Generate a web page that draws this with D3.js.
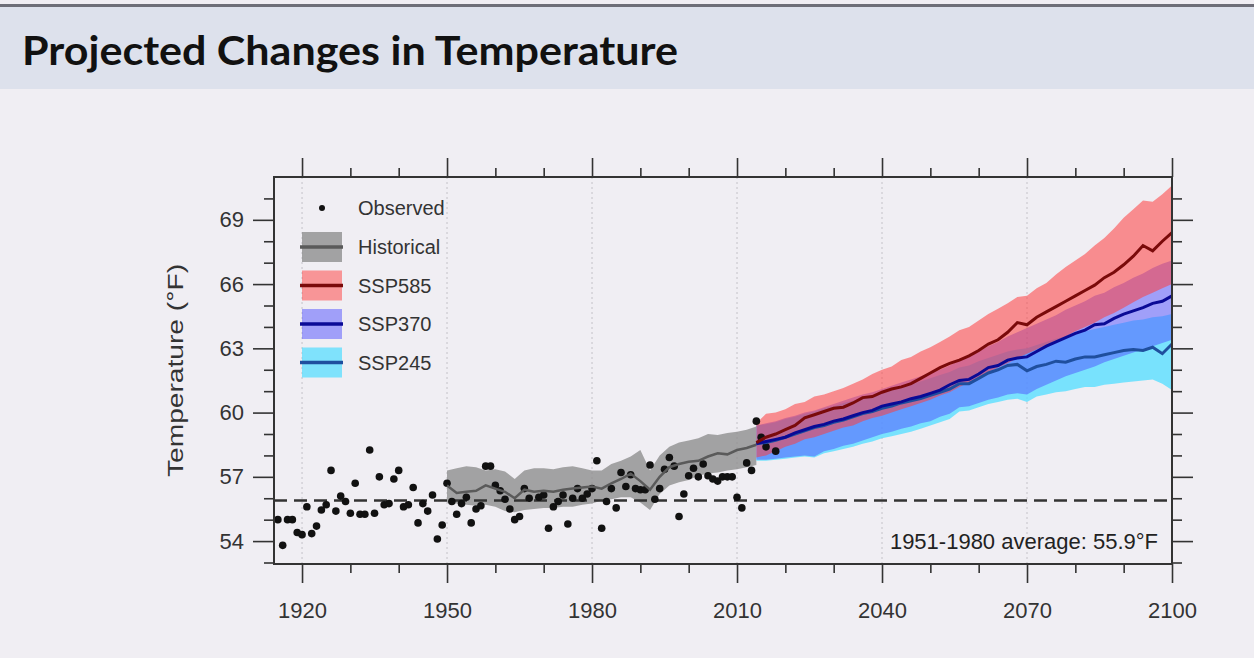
<!DOCTYPE html>
<html>
<head>
<meta charset="utf-8">
<script src="https://cdn.jsdelivr.net/npm/d3@7"></script>
<style>
  html, body { margin: 0; padding: 0; background: #f0eef3; }
  svg { display: block; }
</style>
</head>
<body>
<div id="chart"></div>
<script>
const titleText = 'Projected Changes in Temperature';
const yLabelText = 'Temperature (°F)';
const baselineLabel = '1951-1980 average: 55.9°F';
const baselineValue = 55.9;

const xMajorTicks = [1920, 1950, 1980, 2010, 2040, 2070, 2100];
const xMinorTicks = [1930, 1940, 1960, 1970, 1990, 2000, 2020, 2030, 2050, 2060, 2080, 2090];
const yMajorTicks = [54, 57, 60, 63, 66, 69];
const yMinorTicks = [53, 55, 56, 58, 59, 61, 62, 64, 65, 67, 68, 70];

// observed annual means
const obsYears = [1915, 1916, 1917, 1918, 1919, 1920, 1921, 1922, 1923, 1924, 1925, 1926, 1927, 1928, 1929,
  1930, 1931, 1932, 1933, 1934, 1935, 1936, 1937, 1938, 1939, 1940, 1941, 1942, 1943, 1944, 1945, 1946,
  1947, 1948, 1949, 1950, 1951, 1952, 1953, 1954, 1955, 1956, 1957, 1958, 1959, 1960, 1961, 1962, 1963,
  1964, 1965, 1966, 1967, 1969, 1970, 1971, 1972, 1973, 1974, 1975, 1976, 1977, 1978, 1979, 1980, 1981,
  1982, 1983, 1984, 1985, 1986, 1987, 1988, 1989, 1990, 1991, 1992, 1993, 1994, 1995, 1996, 1997, 1998,
  1999, 2000, 2001, 2002, 2003, 2004, 2005, 2006, 2007, 2008, 2009, 2010, 2011, 2012, 2013, 2014, 2015,
  2016, 2018];
const obsValues = [55.0, 53.8, 55.0, 55.0, 54.4, 54.3, 55.6, 54.35, 54.7, 55.45, 55.7, 57.3, 55.4, 56.1, 55.85,
  55.3, 56.7, 55.25, 55.25, 58.25, 55.3, 57.0, 55.7, 55.75, 56.9, 57.3, 55.6, 55.7, 56.5, 54.85, 55.75, 55.4,
  56.15, 54.1, 54.75, 56.7, 55.85, 55.25, 55.75, 56.05, 54.85, 55.5, 55.65, 57.5, 57.5, 56.6, 56.35, 55.95, 55.5,
  55.0, 55.15, 56.45, 56.0, 56.05, 56.15, 54.6, 55.6, 55.85, 56.15, 54.8, 56.0, 56.45, 56.0, 56.2, 56.45, 57.75,
  54.6, 55.85, 56.45, 55.55, 57.2, 56.55, 57.1, 56.45, 56.4, 56.4, 57.55, 55.95, 56.45, 57.35, 57.9, 57.5, 55.15,
  56.2, 57.05, 57.4, 57.0, 57.6, 57.05, 56.9, 56.8, 57.0, 57.0, 57.0, 56.05, 55.55, 57.65, 57.3, 59.6, 58.85,
  58.4, 58.2];

// historical model ensemble (every 2 years)
const histYears = [1950, 1952, 1954, 1956, 1958, 1960, 1962, 1964, 1966, 1968, 1970, 1972, 1974, 1976, 1978,
  1980, 1982, 1984, 1986, 1988, 1990, 1992, 1994, 1996, 1998, 2000, 2002, 2004, 2006, 2008, 2010, 2012, 2014];
const histMean = [56.6, 56.25, 56.3, 56.35, 56.6, 56.45, 56.3, 56.0, 56.4, 56.3, 56.35, 56.3, 56.4, 56.45, 56.5,
  56.55, 56.45, 56.7, 56.9, 57.15, 56.8, 56.4, 57.0, 57.45, 57.6, 57.7, 57.75, 57.95, 58.1, 58.05, 58.25, 58.35, 58.5];
const histHigh = [57.3, 57.4, 57.5, 57.45, 57.3, 57.35, 57.25, 56.9, 57.3, 57.4, 57.4, 57.35, 57.45, 57.5, 57.4,
  57.3, 57.3, 57.6, 57.75, 57.95, 58.25, 57.3, 58.0, 58.4, 58.6, 58.7, 58.8, 59.0, 58.95, 59.05, 59.1, 59.2, 59.35];
const histLow = [55.8, 55.75, 55.7, 55.65, 55.7, 55.6, 55.4, 55.35, 55.45, 55.5, 55.55, 55.55, 55.6, 55.6, 55.7,
  55.75, 55.9, 55.95, 56.05, 56.05, 55.8, 55.45, 56.2, 56.6, 56.75, 56.85, 57.05, 57.15, 57.2, 57.3, 57.35, 57.45, 57.55];

// scenario projections (every 2 years)
const projYears = [2014, 2016, 2018, 2020, 2022, 2024, 2026, 2028, 2030, 2032, 2034, 2036, 2038, 2040, 2042,
  2044, 2046, 2048, 2050, 2052, 2054, 2056, 2058, 2060, 2062, 2064, 2066, 2068, 2070, 2072, 2074, 2076, 2078,
  2080, 2082, 2084, 2086, 2088, 2090, 2092, 2094, 2096, 2098, 2100];

const ssp585Mean = [58.6, 58.85, 59.0, 59.2, 59.4, 59.75, 59.9, 60.05, 60.2, 60.25, 60.45, 60.7, 60.75, 60.95, 61.1,
  61.2, 61.35, 61.6, 61.85, 62.1, 62.3, 62.45, 62.65, 62.9, 63.2, 63.4, 63.75, 64.2, 64.1, 64.45, 64.7, 64.95, 65.2,
  65.45, 65.7, 65.95, 66.3, 66.55, 66.9, 67.3, 67.8, 67.55, 68.0, 68.4];
const ssp585High = [59.5, 59.95, 60.0, 60.15, 60.4, 60.5, 60.75, 60.85, 61.0, 61.15, 61.35, 61.55, 61.8, 62.0, 62.15,
  62.45, 62.6, 62.85, 63.05, 63.3, 63.55, 63.85, 64.0, 64.3, 64.6, 64.85, 65.1, 65.4, 65.45, 65.8, 66.05, 66.45, 66.8,
  67.1, 67.4, 67.8, 68.15, 68.6, 69.1, 69.5, 69.9, 69.85, 70.2, 70.6];
const ssp585Low = [57.9, 58.0, 58.2, 58.4, 58.55, 58.75, 58.85, 59.0, 59.15, 59.3, 59.4, 59.6, 59.75, 59.85, 60.0,
  60.15, 60.3, 60.45, 60.6, 60.8, 60.95, 61.2, 61.4, 61.65, 61.9, 62.1, 62.3, 62.55, 62.75, 62.95, 63.15, 63.35, 63.55,
  63.8, 64.0, 64.2, 64.45, 64.65, 64.9, 65.15, 65.4, 65.6, 65.8, 66.0];

const ssp370Mean = [58.55, 58.65, 58.75, 58.85, 59.05, 59.2, 59.35, 59.45, 59.6, 59.7, 59.85, 60.0, 60.1, 60.3, 60.4,
  60.5, 60.65, 60.75, 60.9, 61.05, 61.3, 61.5, 61.55, 61.8, 62.1, 62.2, 62.45, 62.55, 62.6, 62.85, 63.1, 63.3, 63.5,
  63.7, 63.85, 64.1, 64.15, 64.4, 64.6, 64.75, 64.9, 65.1, 65.2, 65.45];
const ssp370High = [59.4, 59.5, 59.6, 59.75, 59.85, 60.0, 60.1, 60.25, 60.4, 60.55, 60.7, 60.85, 60.95, 61.1, 61.25,
  61.4, 61.55, 61.7, 61.85, 62.0, 62.2, 62.45, 62.6, 62.85, 63.1, 63.3, 63.55, 63.75, 63.95, 64.15, 64.35, 64.55, 64.8,
  65.0, 65.2, 65.45, 65.6, 65.85, 66.05, 66.3, 66.5, 66.75, 66.95, 67.1];
const ssp370Low = [57.8, 57.8, 57.85, 57.9, 57.95, 58.0, 57.95, 58.2, 58.3, 58.45, 58.55, 58.7, 58.85, 59.0, 59.1,
  59.25, 59.35, 59.5, 59.6, 59.8, 59.95, 60.25, 60.3, 60.45, 60.6, 60.7, 60.85, 60.9, 60.85, 61.1, 61.3, 61.5, 61.7,
  61.85, 62.0, 62.15, 62.35, 62.5, 62.65, 62.8, 62.95, 63.1, 63.25, 63.4];

const ssp245Mean = [58.55, 58.6, 58.7, 58.85, 59.0, 59.15, 59.3, 59.4, 59.55, 59.65, 59.8, 59.95, 60.05, 60.2, 60.3,
  60.45, 60.55, 60.65, 60.8, 60.95, 61.1, 61.35, 61.35, 61.6, 61.85, 62.0, 62.2, 62.25, 61.95, 62.15, 62.25, 62.4, 62.35,
  62.5, 62.6, 62.6, 62.7, 62.8, 62.9, 62.95, 62.9, 63.05, 62.75, 63.2];
const ssp245High = [59.4, 59.45, 59.55, 59.7, 59.8, 59.95, 60.05, 60.2, 60.3, 60.45, 60.55, 60.7, 60.8, 60.95, 61.05,
  61.2, 61.35, 61.45, 61.6, 61.75, 61.9, 62.1, 62.2, 62.4, 62.55, 62.7, 62.85, 62.95, 63.0, 63.15, 63.3, 63.45, 63.55,
  63.7, 63.8, 63.9, 64.0, 64.1, 64.2, 64.3, 64.35, 64.45, 64.5, 64.6];
const ssp245Low = [57.75, 57.75, 57.8, 57.85, 57.9, 57.95, 57.9, 58.1, 58.2, 58.3, 58.4, 58.55, 58.65, 58.8, 58.9,
  59.0, 59.1, 59.25, 59.4, 59.55, 59.7, 60.05, 60.1, 60.25, 60.4, 60.5, 60.6, 60.65, 60.5, 60.75, 60.85, 60.95, 61.0,
  61.1, 61.2, 61.2, 61.3, 61.35, 61.4, 61.45, 61.5, 61.55, 61.35, 61.05];

document.addEventListener('DOMContentLoaded', () => {
  const W = 1254, H = 658;
  const plot = { left: 274, right: 1172, top: 177, bottom: 564 };

  const svg = d3.select('#chart').append('svg')
    .attr('width', W)
    .attr('height', H);

  svg.append('rect').attr('width', W).attr('height', H).attr('fill', '#f0eef3');

  // title bar
  svg.append('rect').attr('x', 0).attr('y', 4).attr('width', W).attr('height', 3).attr('fill', '#6e6e78');
  svg.append('rect').attr('x', 0).attr('y', 7).attr('width', W).attr('height', 82).attr('fill', '#dde1ec');
  svg.append('text')
    .attr('x', 22).attr('y', 65)
    .attr('font-family', 'Lato, "Open Sans", sans-serif')
    .attr('font-weight', 700)
    .attr('font-size', 41)
    .attr('fill', '#111')
    .attr('textLength', 656)
    .attr('lengthAdjust', 'spacingAndGlyphs')
    .text(titleText);

  const x = d3.scaleLinear().domain([1914.2, 2100]).range([plot.left, plot.right]);
  const y = d3.scaleLinear().domain([52.93, 71]).range([plot.bottom, plot.top]);

  const font = '"Liberation Sans", Arial, sans-serif';

  // vertical dotted grid
  svg.append('g').selectAll('line')
    .data(xMajorTicks.filter(d => d < 2100))
    .enter().append('line')
    .attr('x1', d => x(d)).attr('x2', d => x(d))
    .attr('y1', plot.top).attr('y2', plot.bottom)
    .attr('stroke', '#c4c2c8')
    .attr('stroke-width', 1)
    .attr('stroke-dasharray', '2,3');

  // bands
  const band = (xs, lo, hi) => d3.area()
    .x((d, i) => x(xs[i]))
    .y0((d, i) => y(lo[i]))
    .y1((d, i) => y(hi[i]))(xs);
  const line = (xs, vs) => d3.line()
    .x((d, i) => x(xs[i]))
    .y((d, i) => y(vs[i]))(xs);

  const g = svg.append('g');

  g.append('path').attr('d', band(histYears, histLow, histHigh))
    .attr('fill', '#8e8e8e').attr('fill-opacity', 0.8);

  g.append('path').attr('d', band(projYears, ssp245Low, ssp245High))
    .attr('fill', 'rgb(90,222,255)').attr('fill-opacity', 0.8);
  g.append('path').attr('d', band(projYears, ssp370Low, ssp370High))
    .attr('fill', 'rgb(80,80,255)').attr('fill-opacity', 0.5);
  g.append('path').attr('d', band(projYears, ssp585Low, ssp585High))
    .attr('fill', 'rgb(255,60,60)').attr('fill-opacity', 0.55);

  // baseline
  g.append('line')
    .attr('x1', plot.left).attr('x2', plot.right)
    .attr('y1', y(baselineValue)).attr('y2', y(baselineValue))
    .attr('stroke', '#333').attr('stroke-width', 2.5)
    .attr('stroke-dasharray', '13,7');

  // observed
  g.selectAll('.obs')
    .data(obsValues)
    .enter().append('circle')
    .attr('class', 'obs')
    .attr('cx', (d, i) => x(obsYears[i]))
    .attr('cy', d => y(d))
    .attr('r', 3.8)
    .attr('fill', '#111');

  // mean lines
  g.append('path').attr('d', line(histYears, histMean))
    .attr('fill', 'none').attr('stroke', '#5a5a5a').attr('stroke-width', 2.5);
  g.append('path').attr('d', line(projYears, ssp245Mean))
    .attr('fill', 'none').attr('stroke', '#1f4f9e').attr('stroke-width', 3);
  g.append('path').attr('d', line(projYears, ssp370Mean))
    .attr('fill', 'none').attr('stroke', '#0a0a96').attr('stroke-width', 3);
  g.append('path').attr('d', line(projYears, ssp585Mean))
    .attr('fill', 'none').attr('stroke', '#7a0a0a').attr('stroke-width', 3);

  // axes: majors + minors on all four sides
  const axisColor = '#333';
  const styleAxis = sel => {
    sel.select('.domain').remove();
    sel.selectAll('line').attr('stroke', axisColor).attr('stroke-width', 1.6);
    sel.selectAll('text').attr('font-family', font).attr('font-size', 22).attr('fill', '#333');
  };

  svg.append('g').attr('transform', `translate(0,${plot.bottom})`)
    .call(d3.axisBottom(x).tickValues(xMajorTicks).tickSize(19).tickPadding(19).tickFormat(d3.format('d')))
    .call(styleAxis);
  svg.append('g').attr('transform', `translate(0,${plot.bottom})`)
    .call(d3.axisBottom(x).tickValues(xMinorTicks).tickSize(9).tickFormat(''))
    .call(styleAxis);
  svg.append('g').attr('transform', `translate(0,${plot.top})`)
    .call(d3.axisTop(x).tickValues(xMajorTicks).tickSize(19).tickFormat(''))
    .call(styleAxis);
  svg.append('g').attr('transform', `translate(0,${plot.top})`)
    .call(d3.axisTop(x).tickValues(xMinorTicks).tickSize(9).tickFormat(''))
    .call(styleAxis);

  svg.append('g').attr('transform', `translate(${plot.left},0)`)
    .call(d3.axisLeft(y).tickValues(yMajorTicks).tickSize(21).tickPadding(9).tickFormat(d3.format('d')))
    .call(styleAxis);
  svg.append('g').attr('transform', `translate(${plot.left},0)`)
    .call(d3.axisLeft(y).tickValues(yMinorTicks).tickSize(10).tickFormat(''))
    .call(styleAxis);
  svg.append('g').attr('transform', `translate(${plot.right},0)`)
    .call(d3.axisRight(y).tickValues(yMajorTicks).tickSize(21).tickFormat(''))
    .call(styleAxis);
  svg.append('g').attr('transform', `translate(${plot.right},0)`)
    .call(d3.axisRight(y).tickValues(yMinorTicks).tickSize(10).tickFormat(''))
    .call(styleAxis);

  // frame
  svg.append('rect')
    .attr('x', plot.left).attr('y', plot.top)
    .attr('width', plot.right - plot.left).attr('height', plot.bottom - plot.top)
    .attr('fill', 'none').attr('stroke', axisColor).attr('stroke-width', 2);

  // y label
  svg.append('text')
    .attr('transform', `translate(183,${(plot.top + plot.bottom) / 2}) rotate(-90)`)
    .attr('text-anchor', 'middle')
    .attr('font-family', font).attr('font-size', 22).attr('fill', '#333')
    .attr('textLength', 213).attr('lengthAdjust', 'spacingAndGlyphs')
    .text(yLabelText);

  // baseline label
  svg.append('text')
    .attr('x', 1158).attr('y', 549)
    .attr('text-anchor', 'end')
    .attr('font-family', font).attr('font-size', 22).attr('fill', '#222')
    .text(baselineLabel);

  // legend
  const legend = [
    { label: 'Historical', fill: '#8e8e8e', op: 0.8, stroke: '#5a5a5a' },
    { label: 'SSP585', fill: 'rgb(255,60,60)', op: 0.5, stroke: '#7a0a0a' },
    { label: 'SSP370', fill: 'rgb(80,80,255)', op: 0.5, stroke: '#0a0a96' },
    { label: 'SSP245', fill: 'rgb(90,222,255)', op: 0.75, stroke: '#1f4f9e' }
  ];
  const lg = svg.append('g');
  lg.append('circle').attr('cx', 322).attr('cy', 208).attr('r', 3).attr('fill', '#111');
  lg.append('text').attr('x', 358).attr('y', 208).attr('dy', '.35em')
    .attr('font-family', font).attr('font-size', 20).attr('fill', '#333').text('Observed');

  legend.forEach((d, i) => {
    const cy = 247 + i * 38.5;
    lg.append('rect').attr('x', 302).attr('y', cy - 15).attr('width', 40).attr('height', 30)
      .attr('fill', d.fill).attr('fill-opacity', d.op);
    lg.append('line').attr('x1', 300).attr('x2', 343).attr('y1', cy).attr('y2', cy)
      .attr('stroke', d.stroke).attr('stroke-width', 3.5);
    lg.append('text').attr('x', 358).attr('y', cy).attr('dy', '.35em')
      .attr('font-family', font).attr('font-size', 20).attr('fill', '#333').text(d.label);
  });
});
</script>
</body>
</html>
